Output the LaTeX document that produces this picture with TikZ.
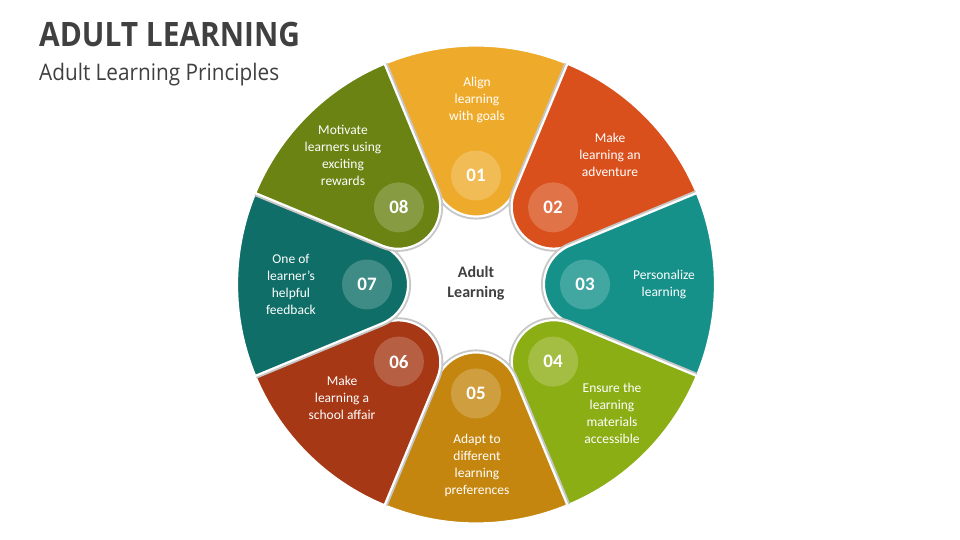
\documentclass[tikz,border=0pt]{standalone}
\usepackage{fontspec}
\setmainfont{Carlito}
\newfontfamily\headfont{Open Sans}
\definecolor{c1}{HTML}{EEAA2B}
\definecolor{c2}{HTML}{DA501C}
\definecolor{c3}{HTML}{15918A}
\definecolor{c4}{HTML}{8CAE15}
\definecolor{c5}{HTML}{C4860F}
\definecolor{c6}{HTML}{A63815}
\definecolor{c7}{HTML}{0F6E67}
\definecolor{c8}{HTML}{6A8313}
\definecolor{ink}{HTML}{404040}
\tikzset{
  petalshape/.style={insert path={(-22.5:239) arc[start angle=-22.5,end angle=22.5,radius=239pt] -- (22.5:101.63) arc[start angle=112.5,end angle=247.5,radius=42pt] -- cycle}},
  numc/.style={circle, minimum size=50pt, inner sep=0pt, fill=white, fill opacity=0.2, text opacity=1, text=white, font=\fontsize{19}{19}\selectfont\bfseries},
  lbl/.style={align=center, text=white, inner sep=0pt, font=\fontsize{13.5}{17}\selectfont},
}
\newcommand\drawpetal[2]{%
  \begin{scope}[shift={(476,255.5)},rotate=#1]
    \begin{scope}
      \clip (0,0) circle (238.5pt);
      \path[draw=black!22,line width=6pt,petalshape];
    \end{scope}
    \path[fill=#2,draw=white,line width=2.2pt,petalshape];
  \end{scope}}
\begin{document}
\begin{tikzpicture}[x=1pt,y=1pt]
\useasboundingbox (0,0) rectangle (960,540);
\fill[white] (0,0) rectangle (960,540);
% title
\node[anchor=base west, inner sep=0pt, text=ink, xscale=0.89, font=\headfont\fontsize{33.6}{36}\selectfont\bfseries] (title) at (39,493) {ADULT LEARNING};
\node[anchor=base west, inner sep=0pt, text=ink, xscale=0.91, font=\headfont\fontsize{22.8}{26}\selectfont] (subtitle) at (39,459) {Adult Learning Principles};
% petals
\drawpetal{90}{c1}
\drawpetal{45}{c2}
\drawpetal{0}{c3}
\drawpetal{-45}{c4}
\drawpetal{-90}{c5}
\drawpetal{-135}{c6}
\drawpetal{180}{c7}
\drawpetal{135}{c8}
% number circles
\node[numc] (n1) at (476,364.5) {01};
\node[numc] (n2) at (553.1,332.6) {02};
\node[numc] (n3) at (585,255.5) {03};
\node[numc] (n4) at (553.1,178.4) {04};
\node[numc] (n5) at (476,146.5) {05};
\node[numc] (n6) at (398.9,178.4) {06};
\node[numc] (n7) at (367,255.5) {07};
\node[numc] (n8) at (398.9,332.6) {08};
% labels
\node[lbl] (t1) at (477,440) {Align\\learning\\with goals};
\node[lbl] (t2) at (610,385) {Make\\learning an\\adventure};
\node[lbl] (t3) at (664,256) {Personalize\\learning};
\node[lbl] (t4) at (612,127) {Ensure the\\learning\\materials\\accessible};
\node[lbl] (t5) at (477,75) {Adapt to\\different\\learning\\preferences};
\node[lbl] (t6) at (342,142) {Make\\learning a\\school affair};
\node[lbl] (t7) at (291,256) {One of\\learner’s\\helpful\\feedback};
\node[lbl] (t8) at (343,385) {Motivate\\learners using\\exciting\\rewards};
% centre
\node[align=center, text=ink, inner sep=0pt, font=\fontsize{16}{20}\selectfont\bfseries] (centre) at (476,257) {Adult\\Learning};
\end{tikzpicture}
\end{document}
